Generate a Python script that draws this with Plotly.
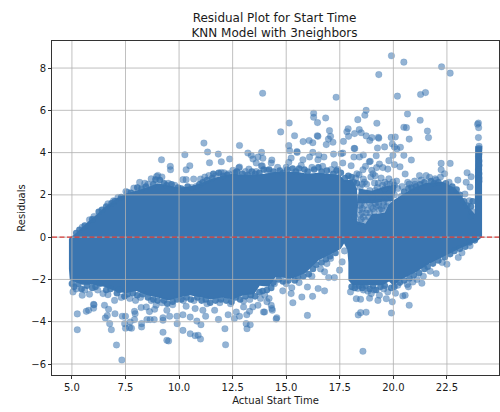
import plotly.graph_objects as go

title_text = "Residual Plot for Start Time<br>KNN Model with 3neighbors"
x_label = "Actual Start Time"
y_label = "Residuals"
x_ticks = [5.0, 7.5, 10.0, 12.5, 15.0, 17.5, 20.0, 22.5]
y_ticks = [-6, -4, -2, 0, 2, 4, 6, 8]
zero_level = [0, 0]
x_limits = [4.07, 24.93]
y_limits = [-6.52, 9.28]

# Outline of the saturated point cloud
mass_outline = [
    (4.86, -0.1), (4.9, 0.0), (5.1, 0.12), (5.4, 0.42), (5.8, 0.78), (6.1, 1.02), (6.5, 1.4), (6.8, 1.62),
    (7.1, 1.85), (7.5, 2.05), (8.0, 2.2), (8.5, 2.35), (9.0, 2.55), (9.5, 2.45), (10.0, 2.35), (10.5, 2.4),
    (11.0, 2.55), (11.5, 2.75), (12.0, 2.9), (12.5, 3.0), (13.0, 2.95), (13.5, 2.95), (14.0, 3.0), (14.5, 3.1),
    (15.0, 3.1), (15.5, 3.1), (16.0, 3.0), (16.5, 3.05), (17.0, 3.0), (17.5, 2.95), (17.7, 2.7), (18.1, 2.7),
    (18.3, 2.3), (18.35, 1.5), (18.3, 1.0), (18.3, 0.75), (18.7, 0.65), (19.0, 1.1), (19.6, 1.15), (19.75, 1.5),
    (20.0, 1.75), (20.3, 1.95), (20.9, 2.32), (21.5, 2.56), (22.3, 2.62), (22.9, 2.32), (23.2, 1.93), (23.5, 1.45), (23.8, 1.1),
    (23.82, 4.3), (24.14, 4.3), (24.14, 0.0), (23.9, -0.19), (23.1, -0.54), (22.3, -0.93), (21.7, -1.25),
    (21.07, -1.65), (20.3, -2.04), (20.0, -2.3), (19.8, -2.1), (19.5, -2.27), (18.1, -2.27), (17.9, -2.04),
    (17.9, -1.2), (17.85, -0.6), (17.7, -0.3), (17.55, -0.55), (17.2, -0.75), (16.5, -1.1), (15.9, -1.7),
    (15.3, -1.96), (14.5, -1.9), (14.2, -2.35), (13.76, -2.3), (13.5, -2.7), (13.0, -2.75), (12.5, -2.95),
    (12.0, -2.85), (11.5, -2.95), (11.0, -2.85), (10.5, -2.75), (10.0, -2.85), (9.5, -3.0), (9.0, -2.85),
    (8.5, -2.75), (8.0, -2.55), (7.5, -2.65), (7.0, -2.55), (6.5, -2.35), (6.0, -2.25), (5.5, -2.25),
    (4.9, -2.04), (4.86, -1.5),
]

# Solid band above the pale gap at x near 18.3 to 20
mass_band = [
    (18.3, 1.6), (19.1, 1.6), (19.6, 1.7), (20.0, 1.7), (20.15, 2.5), (19.6, 2.4), (19.0, 2.2), (18.4, 2.3),
]

upper_points = [
    (13.9, 6.81), (11.16, 4.45), (12.82, 4.34), (11.33, 4.03), (10.27, 3.9), (11.83, 3.93), (9.18, 3.66),
    (12.36, 3.7), (11.42, 3.52), (11.97, 3.57), (9.59, 3.35), (9.6, 3.19), (10.5, 3.38), (10.33, 3.19),
    (13.85, 4.01), (13.21, 3.98), (13.37, 3.87), (13.68, 3.79), (13.91, 3.73), (13.45, 3.7), (13.6, 3.51),
    (13.88, 3.38), (13.84, 3.37), (12.82, 3.32), (12.79, 3.28), (13.26, 3.22), (9.01, 2.92), (8.95, 2.87),
    (8.7, 2.76), (8.16, 2.59), (7.52, 2.16), (7.6, 2.12), (7.89, 2.32), (10.18, 2.72), (10.33, 2.72), (10.68, 2.75),
    (11.0, 2.75), (11.2, 2.84), (11.39, 2.91), (11.97, 3.06), (12.51, 3.16), (7.15, 1.88), (6.94, 1.72),
    (6.68, 1.58), (6.03, 0.98), (5.82, 0.82), (5.48, 0.47), (8.4, 2.55), (8.55, 2.5), (9.2, 2.85), (9.5, 2.55),
    (9.8, 2.45), (10.6, 2.35), (10.8, 2.4), (11.7, 2.9), (12.1, 3.05), (12.3, 3.0), (13.1, 3.1), (13.6, 3.1),
    (14.1, 3.15), (19.91, 8.58), (20.49, 8.28), (22.25, 8.06), (22.65, 7.76), (19.32, 7.69), (17.33, 6.62),
    (20.19, 6.67), (21.27, 6.75), (21.5, 6.84), (18.73, 6.0), (18.67, 5.77), (20.66, 5.83), (16.28, 5.86),
    (16.28, 5.67), (16.46, 5.42), (16.84, 5.64), (15.14, 5.4), (18.34, 5.56), (19.23, 5.39), (21.25, 5.53),
    (14.74, 4.98), (15.39, 4.8), (17.02, 5.04), (17.89, 5.13), (17.83, 4.99), (18.41, 5.09), (18.5, 4.94),
    (18.19, 4.9), (20.49, 5.2), (20.61, 5.18), (21.59, 5.02), (21.64, 4.71), (20.74, 4.64), (17.07, 4.77),
    (16.97, 4.64), (17.18, 4.49), (16.87, 4.38), (16.48, 4.77), (16.45, 4.8), (15.79, 4.52), (16.07, 4.57),
    (16.24, 4.47), (17.67, 4.53), (17.91, 4.77), (18.73, 4.79), (19.0, 4.71), (18.9, 4.57), (19.32, 4.68),
    (19.3, 4.72), (19.9, 4.72), (20.09, 4.74), (19.95, 4.41), (20.05, 4.27), (20.16, 4.17), (20.33, 4.25),
    (19.59, 4.27), (19.26, 4.22), (18.2, 4.19), (18.17, 4.2), (15.12, 4.33), (15.16, 4.09), (15.51, 4.01),
    (15.5, 4.05), (14.33, 3.65), (14.3, 3.51), (15.23, 3.74), (15.12, 3.54), (15.78, 3.66), (16.09, 3.79),
    (16.24, 4.01), (16.52, 3.89), (16.76, 3.79), (16.48, 3.66), (17.21, 3.93), (17.56, 3.95), (17.64, 3.98),
    (18.16, 3.79), (18.6, 3.89), (18.42, 3.79), (19.2, 3.85), (18.92, 3.59), (18.88, 3.57), (19.35, 3.46),
    (19.79, 3.62), (19.98, 3.87), (20.49, 3.87), (20.84, 3.65), (20.05, 3.43), (20.31, 3.33), (19.51, 3.29),
    (19.74, 3.22), (18.99, 3.16), (19.22, 3.29), (17.25, 3.43), (17.64, 3.51), (18.03, 3.38), (18.58, 3.19),
    (18.7, 3.35), (22.23, 3.49), (22.65, 3.49), (22.23, 3.19), (22.39, 3.0), (23.44, 3.05), (23.63, 2.86),
    (21.22, 2.91), (21.53, 2.91), (21.69, 2.83), (21.95, 2.76), (23.01, 2.7), (23.4, 2.6), (23.58, 2.37),
    (23.34, 2.04), (23.55, 1.72), (23.68, 1.2), (20.55, 2.99), (20.99, 2.65), (20.74, 2.51), (20.41, 2.4),
    (20.67, 2.59), (14.6, 3.3), (15.0, 3.3), (15.7, 3.4), (16.2, 3.3), (16.7, 3.35), (17.1, 3.2), (17.4, 3.2),
    (22.0, 2.7), (22.6, 2.6), (22.2, 2.85), (21.0, 2.5), (21.3, 2.7),
]

# Crowded points along the edges of the cloud, several coinciding in the picture
upper_rim_points = [
    (5.2, 0.2), (5.35, 0.35), (5.6, 0.55), (5.95, 0.85), (6.25, 1.2), (6.4, 1.3), (6.6, 1.45), (6.85, 1.6),
    (7.0, 1.7), (7.3, 1.9), (7.75, 2.1), (8.05, 2.35), (8.25, 2.3), (8.45, 2.4), (8.8, 2.5), (8.9, 2.72),
    (9.1, 2.7), (9.3, 2.55), (9.42, 2.45), (9.65, 2.5), (9.95, 2.35), (10.1, 2.3), (10.4, 2.4), (10.95, 2.5),
    (11.1, 2.6), (11.3, 2.7), (11.55, 2.8), (11.6, 3.0), (11.85, 3.05), (12.05, 2.9), (12.25, 2.95), (12.6, 3.05),
    (12.7, 3.1), (12.95, 3.0), (13.2, 2.95), (13.4, 3.1), (13.55, 3.0), (13.75, 3.05), (13.95, 3.2), (14.2, 3.2),
    (14.4, 3.1), (14.7, 3.15), (14.85, 3.05), (15.05, 3.2), (15.3, 3.25), (15.45, 3.1), (15.6, 3.25), (15.85, 3.2),
    (16.0, 3.1), (16.3, 3.2), (16.5, 3.3), (16.65, 3.1), (16.9, 3.15), (17.2, 3.0), (17.35, 3.15), (17.55, 3.05),
    (17.75, 2.8), (17.9, 2.9), (18.05, 2.85), (18.15, 2.6), (18.3, 2.55), (20.5, 2.15), (20.7, 2.3), (20.85, 2.35),
    (21.05, 2.4), (21.25, 2.5), (21.45, 2.6), (21.75, 2.65), (21.9, 2.55), (22.1, 2.6), (22.45, 2.55), (22.75, 2.4),
    (22.95, 2.25), (23.1, 2.0), (23.3, 1.7), (23.45, 1.5), (23.62, 1.45), (23.7, 1.7), (23.6, 1.0),
]

lower_rim_points = [
    (5.0, -2.2), (5.1, -2.35), (5.3, -2.2), (5.45, -2.45), (5.7, -2.3), (5.95, -2.4), (6.1, -2.35), (6.3, -2.2),
    (6.6, -2.5), (6.8, -2.45), (7.1, -2.65), (7.2, -2.5), (7.45, -2.8), (7.6, -2.7), (7.85, -2.65), (8.05, -2.75),
    (8.3, -2.7), (8.55, -2.85), (8.8, -2.95), (9.0, -3.0), (9.3, -3.0), (9.45, -3.15), (9.7, -3.05), (9.9, -2.95),
    (10.1, -2.95), (10.35, -2.85), (10.55, -2.95), (10.85, -2.85), (11.05, -3.0), (11.25, -2.95), (11.45, -3.1), (11.7, -3.0),
    (11.95, -2.95), (12.2, -3.0), (12.45, -3.05), (12.65, -2.85), (12.85, -2.95), (13.1, -2.8), (13.35, -2.75), (13.55, -2.8),
    (13.75, -2.6), (13.9, -2.55), (14.1, -2.5), (14.3, -2.4), (14.4, -2.15), (14.65, -2.0), (14.85, -2.1), (15.1, -2.05),
    (15.4, -2.05), (15.55, -1.9), (15.8, -1.85), (16.05, -1.75), (16.25, -1.5), (16.4, -1.3), (16.65, -1.2), (16.85, -1.05),
    (17.05, -0.9), (17.3, -0.75), (18.05, -2.35), (18.2, -2.4), (18.4, -2.3), (18.55, -2.4), (18.7, -2.3), (18.9, -2.45),
    (19.05, -2.3), (19.2, -2.5), (19.4, -2.35), (19.6, -2.3), (19.9, -2.4), (20.05, -2.35), (20.3, -2.15), (20.5, -2.05),
    (20.75, -1.95), (20.95, -1.8), (21.2, -1.7), (21.45, -1.5), (21.6, -1.4), (21.85, -1.25), (22.1, -1.1), (22.4, -0.95),
    (22.65, -0.8), (22.85, -0.65), (23.1, -0.55), (23.35, -0.45), (23.55, -0.25), (23.8, -0.15),
]

# Sparse points in the pale patches beside the gap at x near 18 to 20
patch_points = [
    (19.98, 2.61), (19.79, 2.76), (19.43, 2.8), (19.12, 2.56), (19.16, 2.21), (19.38, 2.09), (19.32, 1.64),
    (19.63, 1.8), (19.98, 2.24), (20.37, 1.93), (18.34, 1.85), (18.42, 1.3), (18.73, 1.14), (18.97, 1.45),
    (18.42, 0.74), (18.19, 0.98), (18.5, 1.6), (18.6, 2.75), (18.45, 2.35), (18.75, 2.5), (18.9, 2.2),
    (18.75, 1.85), (19.0, 1.9), (18.6, 0.95), (18.85, 0.95), (19.1, 1.2), (19.35, 1.3), (19.55, 1.5),
    (19.15, 2.9), (18.95, 2.85), (19.6, 2.3), (19.8, 2.05), (20.05, 2.0), (18.4, 2.95), (18.25, 2.8),
    (20.2, 2.3), (19.6, 2.6), (18.55, 1.35), (19.2, 1.45), (19.45, 1.35), (18.65, 2.6), (19.3, 2.55), (19.85, 2.5),
    (20.15, 2.65), (18.3, 3.0), (19.05, 3.0), (18.45, 1.05), (18.5, 0.85), (18.7, 0.8), (18.8, 1.3), (18.65, 1.5),
    (18.9, 1.6), (19.05, 1.35), (19.3, 1.5), (19.5, 1.25), (19.7, 1.45), (18.45, 1.5), (18.55, 1.15), (18.9, 1.15),
    (19.15, 1.6), (19.55, 1.65), (19.75, 1.65), (19.25, 2.35), (19.5, 2.45), (19.7, 2.5), (20.05, 2.45), (18.55, 2.5),
]

column_points = [
    (23.97, 5.4), (23.93, 5.34), (23.98, 5.18), (23.97, 4.71), (24.0, 4.3), (24.0, 4.2), (23.99, 4.1),
    (24.0, 3.95), (23.98, 3.8), (24.0, 3.6), (24.0, 3.4), (23.98, 3.2), (24.0, 3.0), (24.0, 2.8), (24.0, 2.65),
]

lower_points = [
    (7.33, -5.81), (7.08, -5.1), (12.17, -5.09), (5.25, -3.63), (5.25, -4.38), (5.67, -3.51), (5.78, -3.46),
    (6.01, -3.18), (6.01, -3.36), (6.03, -3.2), (6.52, -3.22), (6.56, -3.82), (6.65, -3.71), (6.71, -3.41), (6.76, -4.09),
    (6.84, -4.38), (7.01, -3.62), (7.35, -3.74), (7.5, -3.74), (7.46, -4.09), (7.5, -4.31), (7.69, -4.28),
    (7.78, -4.31), (7.72, -4.01), (7.92, -3.9), (7.95, -3.62), (7.92, -3.51), (8.25, -4.09), (8.25, -4.25),
    (8.5, -3.9), (8.62, -3.52), (8.65, -3.9), (8.84, -3.9), (8.86, -3.41), (9.25, -4.5), (9.43, -4.88),
    (9.51, -4.91), (9.25, -3.81), (9.25, -3.93), (9.43, -3.46), (9.56, -3.74), (9.91, -4.09), (10.18, -4.41),
    (10.52, -4.57), (10.75, -4.66), (10.89, -4.64), (11.0, -4.82), (11.02, -4.14), (10.83, -3.97), (10.52, -3.78),
    (9.9, -3.74), (10.18, -3.67), (10.75, -3.38), (11.84, -3.89), (12.14, -4.33), (12.29, -3.67), (12.58, -3.85),
    (12.67, -3.54), (12.82, -3.74), (13.17, -4.33), (13.13, -4.09), (13.32, -4.14), (13.16, -3.67), (13.29, -3.51),
    (13.01, -3.3), (13.94, -3.54), (11.24, -3.74), (11.66, -3.46), (5.05, -2.59), (5.48, -2.75), (5.82, -2.7),
    (6.45, -2.67), (6.68, -2.72), (6.99, -2.99), (7.97, -2.99), (10.33, -3.27), (11.11, -3.46), (8.93, -3.22),
    (8.47, -3.3), (8.23, -3.33), (13.44, -3.3), (13.68, -3.22), (13.01, -3.02), (18.58, -5.4), (14.56, -3.81),
    (14.53, -3.87), (15.99, -3.7), (18.36, -3.68), (18.47, -3.57), (18.73, -3.55), (19.91, -3.59), (13.99, -3.54),
    (14.35, -3.46), (14.3, -3.22), (14.33, -3.38), (15.31, -3.1), (15.73, -2.83), (16.23, -2.8), (16.49, -2.43),
    (16.79, -2.54), (15.99, -2.36), (15.23, -2.67), (14.84, -2.54), (15.26, -2.39), (18.0, -2.59), (18.27, -2.91),
    (18.47, -2.94), (18.89, -2.89), (19.28, -2.99), (19.67, -2.91), (19.95, -3.06), (20.55, -2.75), (20.74, -3.22),
    (20.44, -2.78), (19.35, -2.75), (18.97, -2.67), (18.81, -2.56), (18.34, -2.43), (17.25, -1.91), (16.98, -1.91),
    (17.49, -1.56), (17.61, -1.17), (17.72, -0.65), (17.07, -1.01), (16.79, -1.64), (20.65, -2.24), (21.33, -2.18),
    (21.72, -1.61), (22.0, -1.72), (22.5, -1.28), (22.28, -1.2), (23.03, -0.96), (23.2, -0.74), (23.58, -0.41),
    (20.91, -2.12), (20.21, -2.27), (19.74, -2.59), (5.2, -2.45), (5.6, -2.5), (6.2, -2.5), (7.3, -2.85),
    (7.7, -2.9), (8.2, -2.85), (8.7, -3.0), (9.2, -3.1), (9.7, -3.2), (10.2, -3.0), (10.7, -3.0), (11.3, -3.15),
    (11.9, -3.1), (12.4, -3.15), (13.3, -2.95), (13.8, -2.9), (14.0, -2.75), (14.2, -2.9), (14.1, -3.05),
    (14.45, -2.2), (15.0, -2.2), (15.6, -2.15), (16.2, -1.85), (16.6, -1.5), (16.9, -1.25), (18.6, -2.5),
    (19.1, -2.5), (19.55, -2.45), (20.1, -2.65), (20.7, -2.35), (21.1, -2.0), (21.4, -1.85),
]


def xs(pairs):
    return [p[0] for p in pairs]


def ys(pairs):
    return [p[1] for p in pairs]


points = upper_points + patch_points + column_points + lower_points
rim = upper_rim_points + lower_rim_points

blue = "#3a75b0"
fig = go.Figure()
for poly in (mass_outline, mass_band):
    closed = poly + poly[:1]
    fig.add_trace(go.Scatter(x=xs(closed), y=ys(closed), mode="lines", fill="toself",
                             fillcolor=blue, line=dict(color=blue, width=0), hoverinfo="skip", showlegend=False))
fig.add_trace(go.Scatter(x=xs(rim), y=ys(rim), mode="markers", showlegend=False,
                         marker=dict(size=6.6, color="rgba(58,117,176,0.85)", line=dict(width=0))))
fig.add_trace(go.Scatter(x=xs(points), y=ys(points), mode="markers", showlegend=False,
                         marker=dict(size=6.6, color="rgba(58,117,176,0.55)",
                                     line=dict(color="rgba(58,117,176,0.35)", width=0.5))))

shapes = []
for v in x_ticks:
    shapes.append(dict(type="line", xref="x", yref="paper", x0=v, x1=v, y0=0, y1=1, layer="above",
                       line=dict(color="rgba(176,176,176,0.8)", width=1)))
for v in y_ticks:
    shapes.append(dict(type="line", xref="paper", yref="y", x0=0, x1=1, y0=v, y1=v, layer="above",
                       line=dict(color="rgba(176,176,176,0.8)", width=1)))
shapes.append(dict(type="line", xref="paper", yref="y", x0=0, x1=1, y0=zero_level[0], y1=zero_level[1], layer="above",
                   line=dict(color="rgba(220,45,40,0.9)", width=1.2, dash="5px,2.5px")))

axis_style = dict(showgrid=False, zeroline=False, showline=True, mirror=True, linecolor="#333333",
                  linewidth=1, ticks="outside", ticklen=3, tickwidth=0.8, tickcolor="#333333",
                  tickfont=dict(size=10, color="#1a1a1a"))
fig.update_layout(
    width=500, height=412, margin=dict(l=52, r=1, t=41, b=37), autosize=False,
    paper_bgcolor="white", plot_bgcolor="white", showlegend=False, shapes=shapes,
    font=dict(family="DejaVu Sans", color="#1a1a1a"),
    title=dict(text=title_text, font=dict(size=12), x=0.549, xanchor="center", y=0.947, yanchor="bottom",
               yref="container"),
    xaxis=dict(range=x_limits, tickvals=x_ticks, tickformat=".1f",
               title=dict(text=x_label, font=dict(size=10), standoff=4), **axis_style),
    yaxis=dict(range=y_limits, tickvals=y_ticks,
               title=dict(text=y_label, font=dict(size=10), standoff=3), **axis_style),
)
fig.write_html("out.html", config={"displayModeBar": False},
               post_script="document.body.style.margin='0';document.body.style.overflow='hidden';")
